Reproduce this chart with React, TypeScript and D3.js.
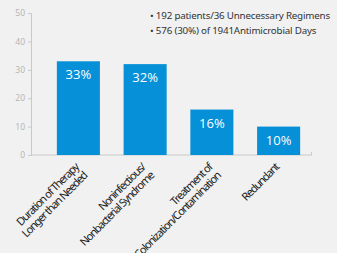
import React, { useEffect, useRef } from 'react';
import * as d3 from 'd3';

const W = 337;
const H = 253;

const categories = [
  ['Duration of Therapy', 'Longer than Needed'],
  ['Noninfectious/', 'Nonbacterial Syndrome'],
  ['Treatment of', 'Colonization/Contamination'],
  ['Redundant'],
];
const values = [33, 32, 16, 10];
const valueLabels = ['33%', '32%', '16%', '10%'];
const yTicks = [0, 10, 20, 30, 40, 50];
const notes = [
  '192 patients/36 Unnecessary Regimens',
  '576 (30%) of 1941Antimicrobial Days',
];

const barColor = '#0590d8';
const axisColor = '#c9c9c9';

const App = () => {
  const ref = useRef<SVGSVGElement>(null);

  useEffect(() => {
    if (!ref.current) return;
    const svg = d3.select(ref.current);
    svg.selectAll('*').remove();

    svg.append('rect').attr('width', W).attr('height', H).attr('fill', '#f1f1f1');

    const y = d3.scaleLinear().domain([0, 50]).range([155, 13]);
    const x = d3
      .scaleBand<number>()
      .domain(values.map((_, i) => i))
      .range([45, 312])
      .paddingInner(0.355)
      .paddingOuter(0.1775);

    // y axis
    const yAxis = d3.axisLeft(y).tickValues(yTicks).tickSize(3).tickPadding(3);
    const gy = svg.append('g').attr('transform', 'translate(31,0)').call(yAxis);
    gy.select('.domain').attr('stroke', axisColor);
    gy.selectAll('.tick line').attr('stroke', axisColor);
    gy.selectAll('.tick text')
      .attr('fill', '#b2b2b2')
      .style('font-family', '"Open Sans", sans-serif')
      .style('font-size', '8.5px');

    // x axis line
    svg.append('line')
      .attr('x1', 31).attr('x2', 312)
      .attr('y1', y(0)).attr('y2', y(0))
      .attr('stroke', axisColor);
    svg.append('line')
      .attr('x1', 311.5).attr('x2', 311.5)
      .attr('y1', y(0)).attr('y2', y(0) - 3)
      .attr('stroke', axisColor);

    // bars
    svg.selectAll('.bar')
      .data(values)
      .enter()
      .append('rect')
      .attr('class', 'bar')
      .attr('x', (_, i) => x(i) as number)
      .attr('y', d => y(d))
      .attr('width', x.bandwidth())
      .attr('height', d => y(0) - y(d))
      .attr('fill', barColor);

    // value labels
    svg.selectAll('.val')
      .data(values)
      .enter()
      .append('text')
      .attr('class', 'val')
      .attr('x', (_, i) => (x(i) as number) + x.bandwidth() / 2)
      .attr('y', d => y(d) + 18)
      .attr('text-anchor', 'middle')
      .attr('fill', '#ffffff')
      .style('font-family', '"Open Sans", sans-serif')
      .style('font-size', '13px')
      .text((_, i) => valueLabels[i]);

    // category labels
    categories.forEach((lines, i) => {
      const cx = (x(i) as number) + x.bandwidth() / 2;
      const t = svg.append('text')
        .attr('transform', `translate(${cx + 1},168) rotate(-45)`)
        .attr('text-anchor', 'end')
        .attr('fill', '#1a1a1a')
        .style('font-family', '"Noto Sans", sans-serif')
        .style('font-size', '11px')
        .style('letter-spacing', '-1.1px');
      lines.forEach((l, j) => {
        t.append('tspan').attr('x', 0).attr('y', j * 12).text(l);
      });
    });

    // notes
    notes.forEach((n, i) => {
      svg.append('text')
        .attr('x', 150)
        .attr('y', 19 + i * 15)
        .attr('fill', '#333333')
        .style('font-family', '"Noto Sans", sans-serif')
        .style('font-size', '9.8px')
        .style('letter-spacing', '-0.2px')
        .text('\u2022 ' + n);
    });
  }, []);

  return (
    <>
      <style>{'body{margin:0;}'}</style>
      <svg ref={ref} width={W} height={H} style={{ display: 'block' }} />
    </>
  );
};

export default App;
